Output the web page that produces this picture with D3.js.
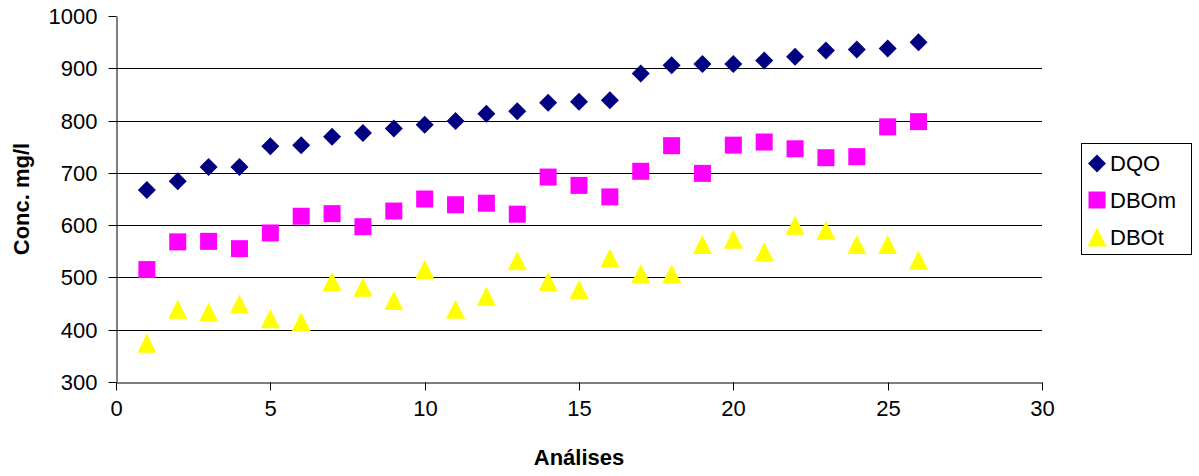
<!DOCTYPE html>
<html>
<head>
<meta charset="utf-8">
<script src="https://cdn.jsdelivr.net/npm/d3@7"></script>
<style>
  html, body { margin: 0; padding: 0; background: #fff; }
  svg { display: block; }
  text { font-family: "Liberation Sans", Arial, sans-serif; fill: #000; }
</style>
</head>
<body>
<div id="chart"></div>
<script>
const analyses = d3.range(1, 27);
const dqo  = [667, 684, 711, 711, 751, 753, 769, 776, 785, 792, 799, 813, 818, 834, 836, 839, 890, 906, 908, 908, 915, 922, 934, 936, 938, 950];
const dbom = [515, 568, 569, 555, 585, 617, 622, 597, 627, 650, 639, 642, 621, 692, 676, 654, 703, 752, 699, 753, 759, 746, 729, 731, 788, 798];
const dbot = [374, 439, 434, 449, 421, 415, 492, 481, 456, 515, 439, 464, 532, 492, 477, 537, 507, 507, 563, 573, 549, 600, 590, 563, 563, 533];
const seriesNames = ["DQO", "DBOm", "DBOt"];
const xTicks = [0, 5, 10, 15, 20, 25, 30];
const yTicks = [300, 400, 500, 600, 700, 800, 900, 1000];

const W = 1199, H = 476;
const svg = d3.select("#chart").append("svg").attr("width", W).attr("height", H);

const x = d3.scaleLinear().domain([0, 30]).range([116, 1042]);
const y = d3.scaleLinear().domain([300, 1000]).range([382, 16]);
const snap = v => Math.round(v) + 0.5;

// gridlines
svg.append("g").selectAll("line").data(yTicks.filter(t => t > 300 && t < 1000)).join("line")
  .attr("x1", x(0)).attr("x2", x(30))
  .attr("y1", d => snap(y(d))).attr("y2", d => snap(y(d)))
  .attr("stroke", "#000").attr("stroke-width", 1);

// y axis
const yAxis = d3.axisLeft(y).tickValues(yTicks).tickFormat(d3.format("d")).tickSize(8).tickPadding(11).tickSizeOuter(0);
const gy = svg.append("g").attr("transform", `translate(${Math.round(x(0)) + 0.5},0)`).call(yAxis);
gy.select(".domain").attr("stroke", "#000");
gy.selectAll(".tick line").attr("stroke", "#000");
gy.selectAll(".tick").attr("transform", d => `translate(0,${snap(y(d))})`);
gy.selectAll("text").attr("font-size", 22).attr("font-family", '"Liberation Sans", Arial, sans-serif').attr("fill", "#000");

// x axis
const xAxis = d3.axisBottom(x).tickValues(xTicks).tickFormat(d3.format("d")).tickSize(8).tickPadding(10).tickSizeOuter(0);
const gx = svg.append("g").attr("transform", `translate(0,${Math.round(y(300)) + 0.5})`).call(xAxis);
gx.select(".domain").attr("stroke", "#000");
gx.selectAll(".tick line").attr("stroke", "#000");
gx.selectAll(".tick").attr("transform", d => `translate(${snap(x(d))},0)`);
gx.selectAll("text").attr("font-size", 22).attr("font-family", '"Liberation Sans", Arial, sans-serif').attr("fill", "#000");

// axis titles
svg.append("text").attr("x", (x(0) + x(30)) / 2).attr("y", 465)
  .attr("text-anchor", "middle").attr("font-size", 22).attr("font-weight", "bold").text("Análises");
svg.append("text").attr("transform", `translate(29,${(y(300) + y(1000)) / 2}) rotate(-90)`)
  .attr("text-anchor", "middle").attr("font-size", 22).attr("font-weight", "bold").text("Conc. mg/l");

// markers
const diamond = (cx, cy, r) => `M${cx},${cy - r}L${cx + r},${cy}L${cx},${cy + r}L${cx - r},${cy}Z`;
const square = (cx, cy, r) => `M${cx - r},${cy - r}h${2 * r}v${2 * r}h${-2 * r}Z`;
const triangle = (cx, cy, r) => `M${cx},${cy - r}L${cx + r},${cy + r}L${cx - r},${cy + r}Z`;

const series = [
  { name: seriesNames[0], values: dqo, color: "#000080", shape: diamond, r: 9 },
  { name: seriesNames[1], values: dbom, color: "#FF00FF", shape: square, r: 8.5 },
  { name: seriesNames[2], values: dbot, color: "#FFFF00", shape: triangle, r: 9.5 }
];

series.forEach(s => {
  svg.append("g").selectAll("path").data(analyses.map((a, i) => [a, s.values[i]])).join("path")
    .attr("d", d => s.shape(x(d[0]), y(d[1]), s.r))
    .attr("fill", s.color);
});

// legend
const lg = svg.append("g");
lg.append("rect").attr("x", 1081.5).attr("y", 143.5).attr("width", 110).attr("height", 111)
  .attr("fill", "#fff").attr("stroke", "#000").attr("stroke-width", 1);
const legendY = [163.5, 200, 237];
series.forEach((s, i) => {
  lg.append("path").attr("d", s.shape(1097, legendY[i], s.r)).attr("fill", s.color);
  lg.append("text").attr("x", 1110).attr("y", legendY[i]).attr("dy", "0.36em")
    .attr("font-size", 22).text(s.name);
});
</script>
</body>
</html>
